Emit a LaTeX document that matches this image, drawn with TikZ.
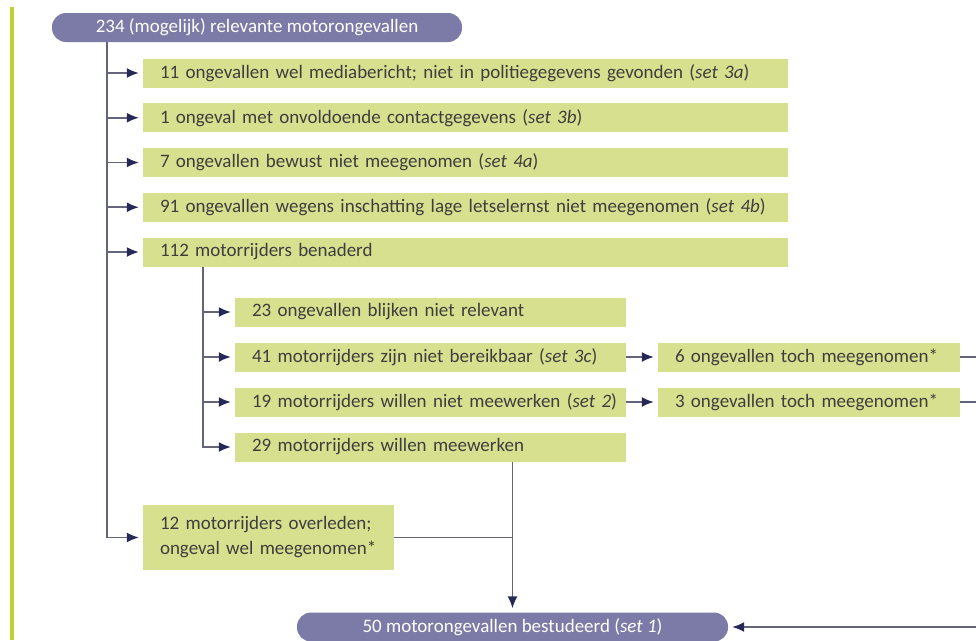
\documentclass[tikz,border=0pt]{standalone}
\usepackage{fontspec}
\setmainfont{Carlito}
\usetikzlibrary{arrows.meta}
\definecolor{boxgreen}{RGB}{214,224,142}
\definecolor{pillpurple}{RGB}{124,122,166}
\definecolor{bargreen}{RGB}{190,208,52}
\definecolor{linegray}{RGB}{100,100,122}
\definecolor{tipnavy}{RGB}{38,40,88}
\definecolor{txtgray}{RGB}{62,62,62}
\tikzset{
  boxfont/.style={font=\fontsize{19}{25}\selectfont},
  greenbox/.style={boxfont, fill=boxgreen, text=txtgray, minimum height=29pt, align=left, inner xsep=6pt, inner ysep=0pt, execute at begin node={\leftskip=11pt}},
  pill/.style={boxfont, fill=pillpurple, text=white, rounded corners=14pt, minimum height=29pt, inner ysep=0pt},
  conn/.style={draw=linegray, line width=1.6pt},
  arr/.style={conn, -{Latex[length=12pt,width=10pt,color=tipnavy]}, shorten >=4pt}
}
\begin{document}
\begin{tikzpicture}[x=1pt,y=-1pt]
\useasboundingbox (0,0) rectangle (976,640);
\clip (0,0) rectangle (976,640);
\fill[bargreen] (10,7) rectangle (13.5,640);

\node[pill, minimum width=410pt] (top) at (257,27.5) {234 (mogelijk) relevante motorongevallen};

\node[greenbox, text width=633pt] (r1) at (465.5,73) {11 ongevallen wel mediabericht; niet in politiegegevens gevonden (\textit{set 3a})};
\node[greenbox, text width=633pt] (r2) [below of=r1,node distance=44.75pt] {1 ongeval met onvoldoende contactgegevens (\textit{set 3b})};
\node[greenbox, text width=633pt] (r3) [below of=r2,node distance=44.75pt] {7 ongevallen bewust niet meegenomen (\textit{set 4a})};
\node[greenbox, text width=633pt] (r4) [below of=r3,node distance=44.75pt] {91 ongevallen wegens inschatting lage letselernst niet meegenomen (\textit{set 4b})};
\node[greenbox, text width=633pt] (r5) [below of=r4,node distance=44.75pt] {112 motorrijders benaderd};

\node[greenbox, text width=379pt] (s1) at (430.5,312) {23 ongevallen blijken niet relevant};
\node[greenbox, text width=379pt] (s2) [below of=s1,node distance=45pt] {41 motorrijders zijn niet bereikbaar (\textit{set 3c})};
\node[greenbox, text width=379pt] (s3) [below of=s2,node distance=45pt] {19 motorrijders willen niet meewerken (\textit{set 2})};
\node[greenbox, text width=379pt] (s4) [below of=s3,node distance=45pt] {29 motorrijders willen meewerken};

\node[greenbox, text width=290pt] (t1) [right of=s2,node distance=378.5pt] {6 ongevallen toch meegenomen*};
\node[greenbox, text width=290pt] (t2) [right of=s3,node distance=378.5pt] {3 ongevallen toch meegenomen*};

\node[greenbox, text width=239pt, minimum height=65pt] (r12) at (268.5,537.5) {12 motorrijders overleden;\\ongeval wel meegenomen*};

\node[pill, minimum width=431pt] (bottom) at (512.5,627) {50 motorongevallen bestudeerd (\textit{set 1})};

\coordinate (trunk) at (107,0);
\coordinate (sub) at (203,0);
\coordinate (side) at (992,0);

\draw[arr] (top.south -| trunk) |- (r12.west);
\draw[arr] (trunk |- r1) -- (r1.west);
\draw[arr] (trunk |- r2) -- (r2.west);
\draw[arr] (trunk |- r3) -- (r3.west);
\draw[arr] (trunk |- r4) -- (r4.west);
\draw[arr] (trunk |- r5) -- (r5.west);

\draw[arr] (r5.south -| sub) |- (s4.west);
\draw[arr] (sub |- s1) -- (s1.west);
\draw[arr] (sub |- s2) -- (s2.west);
\draw[arr] (sub |- s3) -- (s3.west);

\draw[arr] (s2) -- (t1);
\draw[arr] (s3) -- (t2);
\draw[arr] (t1.east) -- (t1.east -| side) |- (bottom.east);
\draw[conn] (t2.east) -- (t2.east -| side);

\draw[arr] (s4.south -| bottom.north) -- (bottom.north);
\draw[conn] (r12.east) -- (r12.east -| bottom.north);
\end{tikzpicture}
\end{document}
